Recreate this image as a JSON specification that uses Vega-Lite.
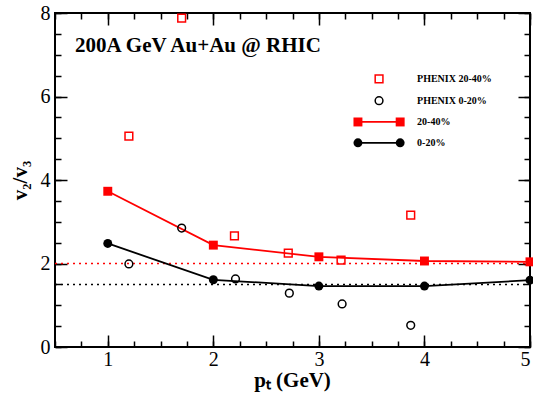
{
  "$schema": "https://vega.github.io/schema/vega-lite/v6.json",
  "width": 475,
  "height": 334,
  "autosize": {"type": "none"},
  "padding": {"left": 55, "top": 13, "right": 3, "bottom": 47},
  "background": "white",
  "config": {
    "view": {"stroke": "black", "strokeWidth": 2},
    "font": "Liberation Serif",
    "axis": {"grid": false, "domain": false, "tickColor": "black", "tickWidth": 1.5, "labelFont": "Liberation Serif", "labelFontSize": 20, "labelColor": "black", "titleFont": "Liberation Serif", "titleFontSize": 21, "titleFontWeight": "bold", "titleColor": "black"}
  },
  "datasets": {
    "model": [
      {"series": "20-40%", "pt": 1, "v": 3.73},
      {"series": "20-40%", "pt": 2, "v": 2.44},
      {"series": "20-40%", "pt": 3, "v": 2.16},
      {"series": "20-40%", "pt": 4, "v": 2.06},
      {"series": "20-40%", "pt": 5, "v": 2.04},
      {"series": "0-20%", "pt": 1, "v": 2.48},
      {"series": "0-20%", "pt": 2, "v": 1.61},
      {"series": "0-20%", "pt": 3, "v": 1.46},
      {"series": "0-20%", "pt": 4, "v": 1.46},
      {"series": "0-20%", "pt": 5, "v": 1.6}
    ],
    "phenix": [
      {"series": "PHENIX 20-40%", "pt": 1.2, "v": 5.05},
      {"series": "PHENIX 20-40%", "pt": 1.7, "v": 7.88},
      {"series": "PHENIX 20-40%", "pt": 2.2, "v": 2.66},
      {"series": "PHENIX 20-40%", "pt": 2.71, "v": 2.25},
      {"series": "PHENIX 20-40%", "pt": 3.21, "v": 2.08},
      {"series": "PHENIX 20-40%", "pt": 3.87, "v": 3.16},
      {"series": "PHENIX 0-20%", "pt": 1.2, "v": 1.99},
      {"series": "PHENIX 0-20%", "pt": 1.7, "v": 2.85},
      {"series": "PHENIX 0-20%", "pt": 2.21, "v": 1.63},
      {"series": "PHENIX 0-20%", "pt": 2.72, "v": 1.29},
      {"series": "PHENIX 0-20%", "pt": 3.22, "v": 1.03},
      {"series": "PHENIX 0-20%", "pt": 3.87, "v": 0.52}
    ],
    "ref": [
      {"series": "20-40%", "x1": 0.5, "x2": 5, "y": 2.0},
      {"series": "0-20%", "x1": 0.5, "x2": 5, "y": 1.5}
    ],
    "legendLines": [
      {"series": "20-40%", "x": 3.37, "y": 5.39},
      {"series": "20-40%", "x": 3.77, "y": 5.39},
      {"series": "0-20%", "x": 3.37, "y": 4.89},
      {"series": "0-20%", "x": 3.77, "y": 4.89}
    ],
    "legendOpen": [
      {"series": "PHENIX 20-40%", "x": 3.57, "y": 6.42},
      {"series": "PHENIX 0-20%", "x": 3.57, "y": 5.9}
    ],
    "legendText": [
      {"label": "PHENIX 20-40%", "x": 3.93, "y": 6.42},
      {"label": "PHENIX 0-20%", "x": 3.93, "y": 5.9},
      {"label": "20-40%", "x": 3.93, "y": 5.39},
      {"label": "0-20%", "x": 3.93, "y": 4.89}
    ],
    "titleText": [
      {"label": "200A GeV Au+Au @ RHIC", "x": 0.69, "y": 7.22}
    ]
  },
  "resolve": {"axis": {"x": "independent", "y": "independent"}},
  "layer": [
    {
      "data": {"name": "ref"},
      "mark": {"type": "rule", "strokeDash": [2, 4], "strokeWidth": 1.5},
      "encoding": {
        "x": {"field": "x1", "type": "quantitative", "scale": {"domain": [0.5, 5], "nice": false, "zero": false},
          "axis": {"orient": "bottom", "values": [1, 2, 3, 4, 5], "format": "d", "tickSize": -12, "labelPadding": 14, "title": "pₜ (GeV)", "titleX": 237, "titleY": 33, "titleBaseline": "middle"}},
        "x2": {"field": "x2"},
        "y": {"field": "y", "type": "quantitative", "scale": {"domain": [0, 8], "nice": false},
          "axis": {"orient": "left", "values": [0, 2, 4, 6, 8], "format": "d", "tickSize": -12, "labelPadding": 17, "title": "v₂/v₃", "titleX": -35, "titleY": 167, "titleAngle": -90, "titleBaseline": "middle", "titleAlign": "center"}},
        "color": {"field": "series", "type": "nominal", "scale": {"domain": ["20-40%", "0-20%", "PHENIX 20-40%", "PHENIX 0-20%"], "range": ["#ff0000", "#000000", "#ff0000", "#000000"]}, "legend": null}
      }
    },
    {
      "data": {"name": "model"},
      "mark": {"type": "line", "strokeWidth": 1.8},
      "encoding": {
        "x": {"field": "pt", "type": "quantitative",
          "axis": {"orient": "bottom", "values": [0.5, 0.75, 1, 1.25, 1.5, 1.75, 2, 2.25, 2.5, 2.75, 3, 3.25, 3.5, 3.75, 4, 4.25, 4.5, 4.75, 5], "tickSize": -6, "labels": false, "title": null}},
        "y": {"field": "v", "type": "quantitative",
          "axis": {"orient": "left", "values": [0, 0.5, 1, 1.5, 2, 2.5, 3, 3.5, 4, 4.5, 5, 5.5, 6, 6.5, 7, 7.5, 8], "tickSize": -6, "labels": false, "title": null}},
        "color": {"field": "series", "type": "nominal", "legend": null}
      }
    },
    {
      "data": {"name": "model"},
      "mark": {"type": "point", "filled": true, "opacity": 1, "size": 80},
      "encoding": {
        "x": {"field": "pt", "type": "quantitative",
          "axis": {"orient": "top", "values": [1, 2, 3, 4, 5], "tickSize": -12, "labels": false, "title": null}},
        "y": {"field": "v", "type": "quantitative",
          "axis": {"orient": "right", "values": [0, 2, 4, 6, 8], "tickSize": -12, "labels": false, "title": null}},
        "color": {"field": "series", "type": "nominal", "legend": null},
        "shape": {"field": "series", "type": "nominal", "scale": {"domain": ["20-40%", "0-20%", "PHENIX 20-40%", "PHENIX 0-20%"], "range": ["square", "circle", "square", "circle"]}, "legend": null}
      }
    },
    {
      "data": {"name": "phenix"},
      "mark": {"type": "point", "filled": false, "opacity": 1, "size": 60, "strokeWidth": 1.5},
      "encoding": {
        "x": {"field": "pt", "type": "quantitative",
          "axis": {"orient": "top", "values": [0.5, 0.75, 1, 1.25, 1.5, 1.75, 2, 2.25, 2.5, 2.75, 3, 3.25, 3.5, 3.75, 4, 4.25, 4.5, 4.75, 5], "tickSize": -6, "labels": false, "title": null}},
        "y": {"field": "v", "type": "quantitative",
          "axis": {"orient": "right", "values": [0, 0.5, 1, 1.5, 2, 2.5, 3, 3.5, 4, 4.5, 5, 5.5, 6, 6.5, 7, 7.5, 8], "tickSize": -6, "labels": false, "title": null}},
        "color": {"field": "series", "type": "nominal", "legend": null},
        "shape": {"field": "series", "type": "nominal", "legend": null}
      }
    },
    {
      "data": {"name": "legendLines"},
      "mark": {"type": "line", "strokeWidth": 1.8},
      "encoding": {
        "x": {"field": "x", "type": "quantitative", "axis": null},
        "y": {"field": "y", "type": "quantitative", "axis": null},
        "color": {"field": "series", "type": "nominal", "legend": null}
      }
    },
    {
      "data": {"name": "legendLines"},
      "mark": {"type": "point", "filled": true, "opacity": 1, "size": 80},
      "encoding": {
        "x": {"field": "x", "type": "quantitative", "axis": null},
        "y": {"field": "y", "type": "quantitative", "axis": null},
        "color": {"field": "series", "type": "nominal", "legend": null},
        "shape": {"field": "series", "type": "nominal", "legend": null}
      }
    },
    {
      "data": {"name": "legendOpen"},
      "mark": {"type": "point", "filled": false, "opacity": 1, "size": 60, "strokeWidth": 1.5},
      "encoding": {
        "x": {"field": "x", "type": "quantitative", "axis": null},
        "y": {"field": "y", "type": "quantitative", "axis": null},
        "color": {"field": "series", "type": "nominal", "legend": null},
        "shape": {"field": "series", "type": "nominal", "legend": null}
      }
    },
    {
      "data": {"name": "legendText"},
      "mark": {"type": "text", "align": "left", "baseline": "middle", "font": "Liberation Serif", "fontWeight": "bold", "fontSize": 10, "color": "black"},
      "encoding": {
        "x": {"field": "x", "type": "quantitative", "axis": null},
        "y": {"field": "y", "type": "quantitative", "axis": null},
        "text": {"field": "label"}
      }
    },
    {
      "data": {"name": "titleText"},
      "mark": {"type": "text", "align": "left", "baseline": "middle", "font": "Liberation Serif", "fontWeight": "bold", "fontSize": 21, "color": "black"},
      "encoding": {
        "x": {"field": "x", "type": "quantitative", "axis": null},
        "y": {"field": "y", "type": "quantitative", "axis": null},
        "text": {"field": "label"}
      }
    }
  ]
}
